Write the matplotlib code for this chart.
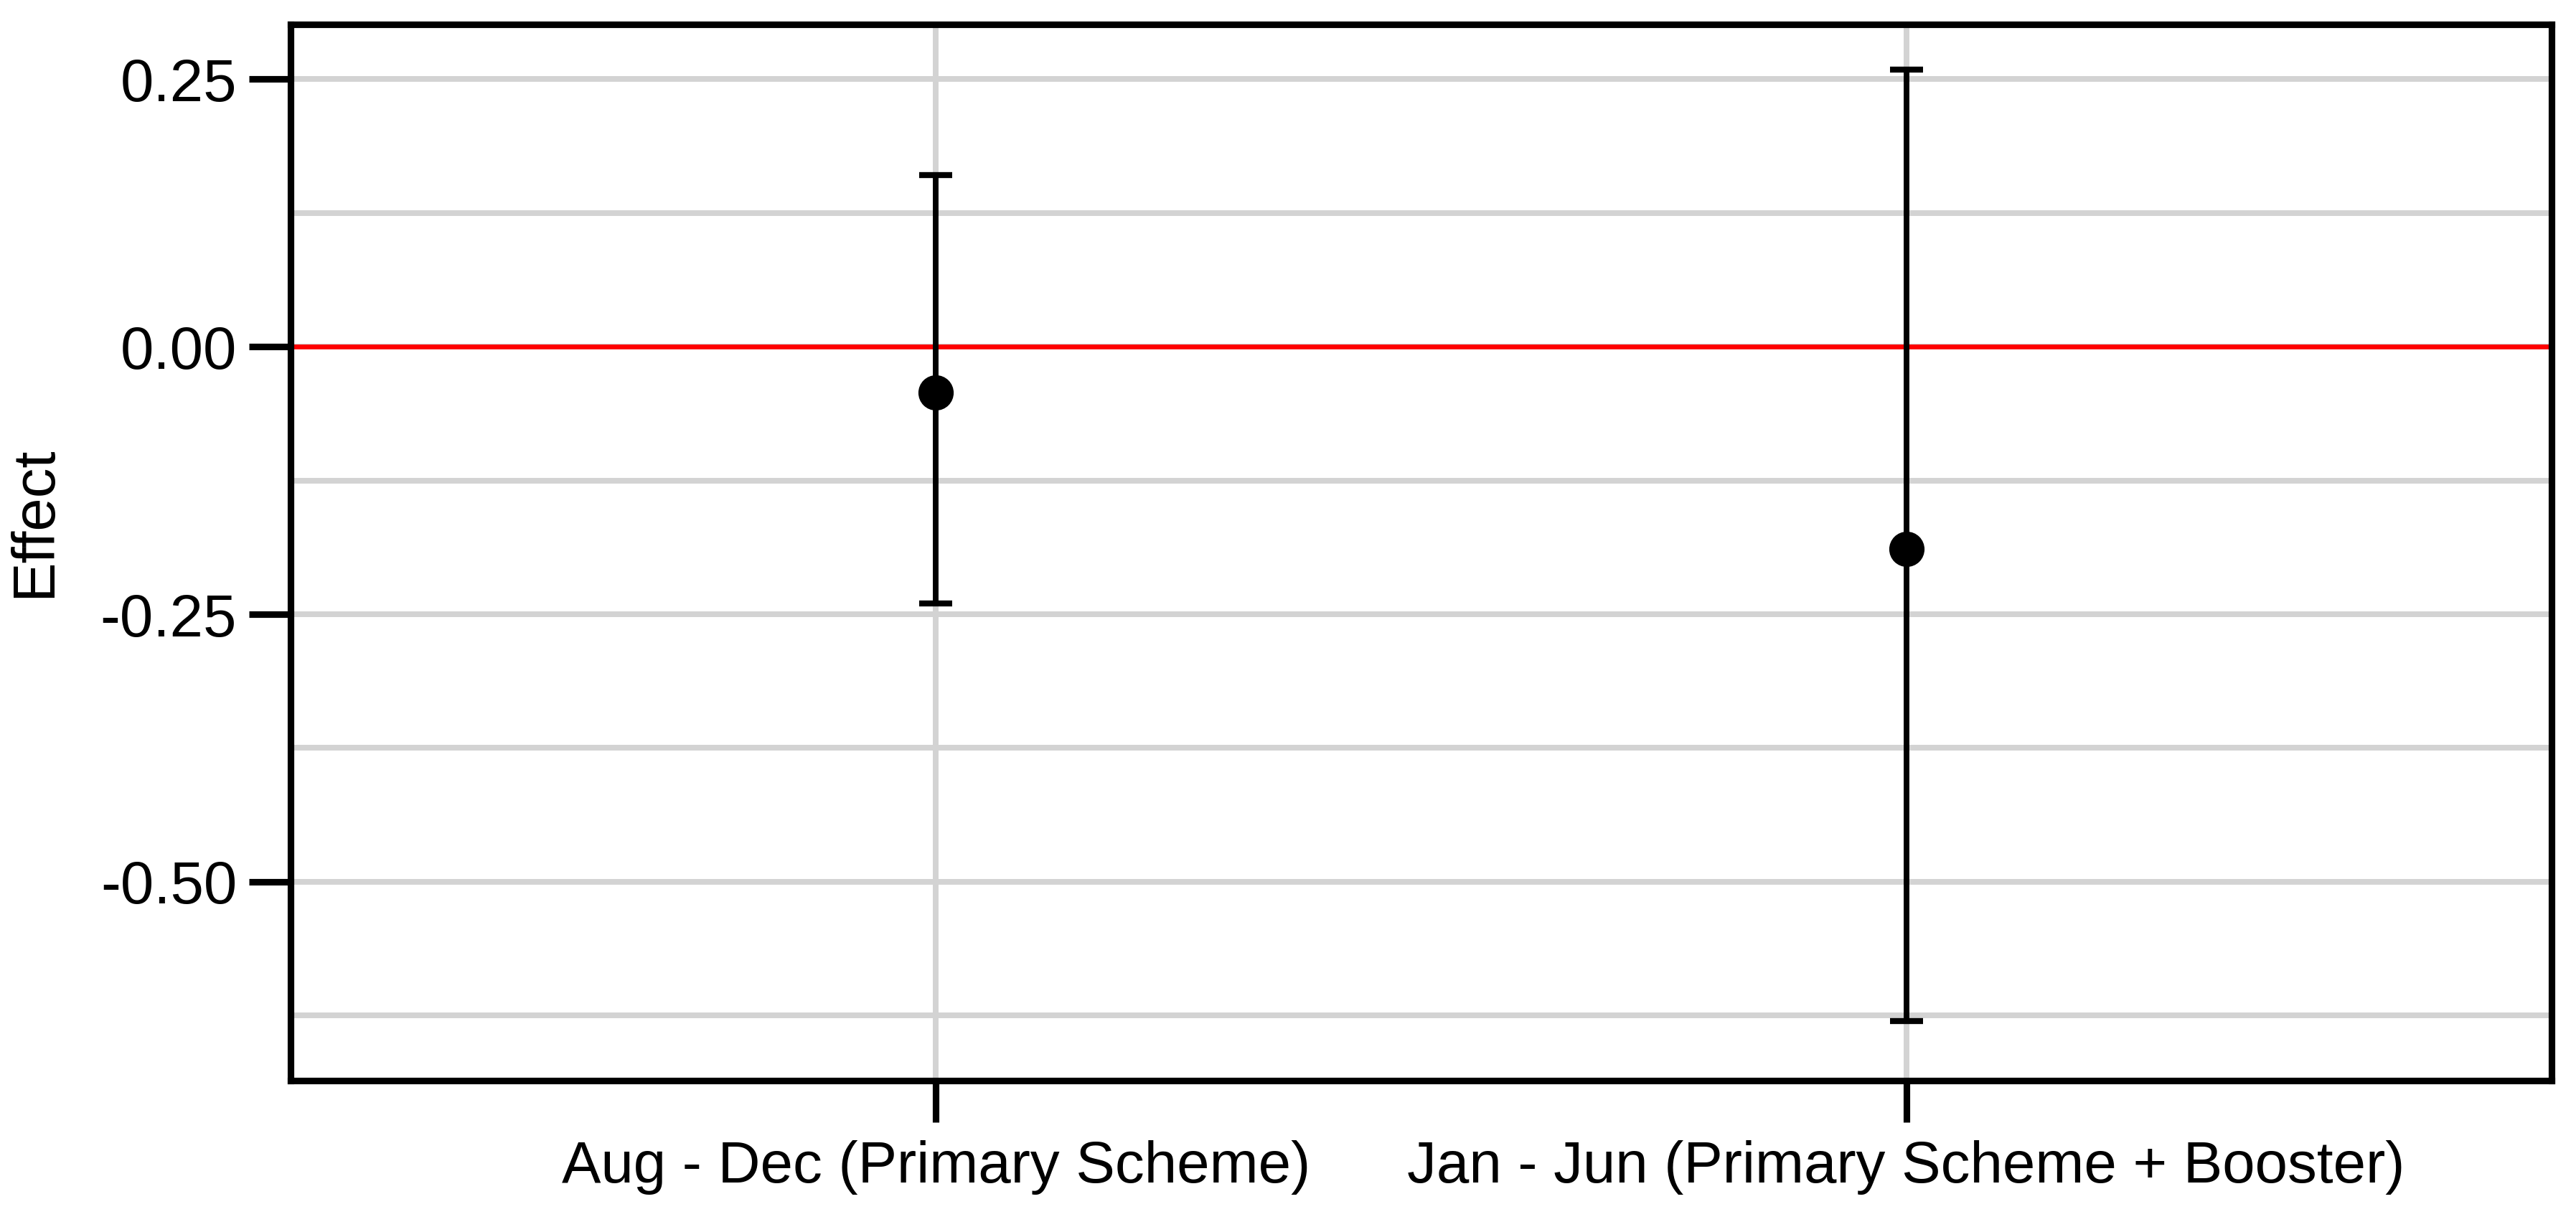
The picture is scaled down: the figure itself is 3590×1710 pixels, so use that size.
import matplotlib
matplotlib.use("Agg")
import matplotlib.pyplot as plt
from matplotlib.ticker import MultipleLocator

# values
periods = ["Aug - Dec (Primary Scheme)", "Jan - Jun (Primary Scheme + Booster)"]
effect = [-0.043, -0.189]
ci_low = [-0.240, -0.630]
ci_high = [0.160, 0.259]
y_ticks = [0.25, 0.00, -0.25, -0.50]
y_tick_labels = ["0.25", "0.00", "-0.25", "-0.50"]

plt.rcParams["font.family"] = ["Liberation Sans", "DejaVu Sans"]

fig = plt.figure(figsize=(3590 / 300, 1710 / 300), dpi=300)
ax = fig.add_axes([405 / 3590, 1 - 1506 / 1710, (3556 - 405) / 3590, (1506 - 34) / 1710])

x = list(range(len(periods)))
err_lo = [e - lo for e, lo in zip(effect, ci_low)]
err_hi = [hi - e for e, hi in zip(effect, ci_high)]

ax.axhline(0, color="#ff0000", lw=1.6, zorder=2)
ax.errorbar(x, effect, yerr=[err_lo, err_hi], fmt="o", color="black",
            ms=10.8, elinewidth=1.9, capsize=5.5, capthick=2.0, zorder=3)

ax.set_xlim(-0.665, 1.665)
ax.set_ylim(-0.6857, 0.301)
ax.set_xticks(x)
ax.set_xticklabels(periods, fontsize=19.6)
ax.set_yticks(y_ticks)
ax.set_yticklabels(y_tick_labels, fontsize=20)
ax.yaxis.set_minor_locator(MultipleLocator(0.125))

ax.grid(True, which="major", color="#d3d3d3", lw=1.9, zorder=0)
ax.grid(True, which="minor", axis="y", color="#d3d3d3", lw=1.9, zorder=0)
ax.set_axisbelow(True)

for s in ax.spines.values():
    s.set_linewidth(2.2)
    s.set_color("black")

ax.tick_params(axis="both", which="major", length=14, width=2.2, colors="black")
ax.tick_params(axis="y", which="minor", length=0)
ax.tick_params(axis="x", pad=6)
ax.tick_params(axis="y", pad=4)

ax.set_ylabel("Effect", fontsize=20)
ax.yaxis.set_label_coords(-0.1009, 0.529)

fig.savefig("out.png", dpi=300, facecolor="white")
